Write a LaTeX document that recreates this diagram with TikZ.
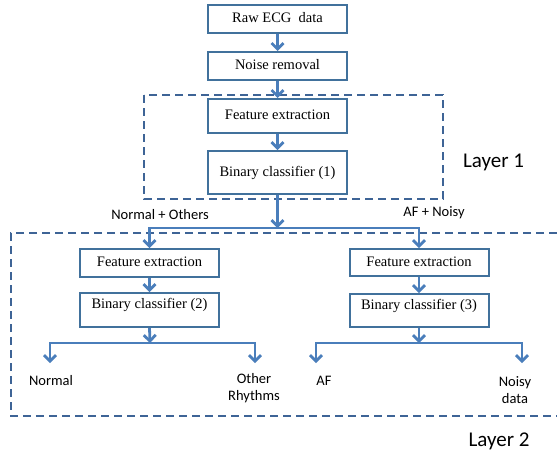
\documentclass[tikz,border=0pt]{standalone}
\usepackage{fontspec}
\setmainfont{Liberation Serif}
\newfontfamily\calfont{Carlito}
\usetikzlibrary{arrows.meta}
\definecolor{boxc}{RGB}{65,113,156}
\definecolor{arrc}{RGB}{74,126,187}
\definecolor{dashc}{RGB}{62,100,150}
\begin{document}
\begin{tikzpicture}[x=1pt,y=-1pt,
 box/.style={draw=boxc,line width=2pt,minimum width=139pt,inner sep=0pt,
   font=\fontsize{14.5}{17}\selectfont,text height=10pt,text depth=3pt},
 arr/.style={draw=arrc,line width=2.8pt,-{Straight Barb[length=6pt,width=12pt]}},
 layer/.style={draw=dashc,line width=2pt,dash pattern=on 8pt off 5pt},
 lab/.style={font=\calfont\fontsize{14.5}{17}\selectfont,align=center,inner sep=0pt},
 big/.style={font=\calfont\fontsize{21}{24}\selectfont,inner sep=0pt}]
\useasboundingbox (0,0) rectangle (557,453);

% layers
\draw[layer] (144,95) rectangle (443,199);
\draw[layer] (557,233) -- (11,233) -- (11,416) -- (557,416);

% top chain
\node[box,minimum height=28pt] (raw) at (277.5,19) {Raw ECG\ \ data};
\node[box,minimum height=28pt] (noise) at (277.5,66) {Noise removal};
\node[box,minimum height=34pt] (fe1) at (277.5,116) {Feature extraction};
\node[box,minimum height=43pt] (bc1) at (277.5,172.5) {Binary classifier (1)};

% left branch
\node[box,minimum height=28pt] (fe2) at (149.5,263) {Feature extraction};
\node[box,minimum height=34pt,text depth=13pt] (bc2) at (149.5,310) {Binary classifier (2)};
% right branch
\node[box,minimum height=27pt] (fe3) at (419,262.5) {Feature extraction};
\node[box,minimum height=33pt,text depth=13pt] (bc3) at (419,310.5) {Binary classifier (3)};

\coordinate (j1) at (277.5,228);
\coordinate (j2) at (150,343);
\coordinate (j3) at (419,343);
\coordinate (e1) at (50,363);
\coordinate (e2) at (255,363);
\coordinate (e3) at (316,363);
\coordinate (e4) at (522,363);

\draw[arr] (raw) -- (noise);
\draw[arr] (noise) -- (fe1);
\draw[arr] (fe1) -- (bc1);
\draw[arr] (bc1) -- (j1);
\draw[arr] (j1) -| (fe2.north);
\draw[arr] (j1) -| (fe3.north);
\draw[arr] (fe2) -- (bc2);
\draw[arr] (fe3) -- (bc3);
\draw[arr] (bc2.south) -- (j2);
\draw[arr] (bc3.south) -- (j3);
\draw[arr] (j2) -| (e1);
\draw[arr] (j2) -| (e2);
\draw[arr] (j3) -| (e3);
\draw[arr] (j3) -| (e4);

% labels
\node[lab] (l1) at (160,215) {Normal + Others};
\node[lab] (l2) at (434,213) {AF + Noisy};
\node[lab] (o1) at (51,381) {Normal};
\node[lab] (o2) at (254,388) {Other\\Rhythms};
\node[lab] (o3) at (324,381) {AF};
\node[lab] (o4) at (515,390) {Noisy\\data};
\node[big] (L1) at (493.5,162) {Layer 1};
\node[big] (L2) at (499,441) {Layer 2};
\end{tikzpicture}
\end{document}
